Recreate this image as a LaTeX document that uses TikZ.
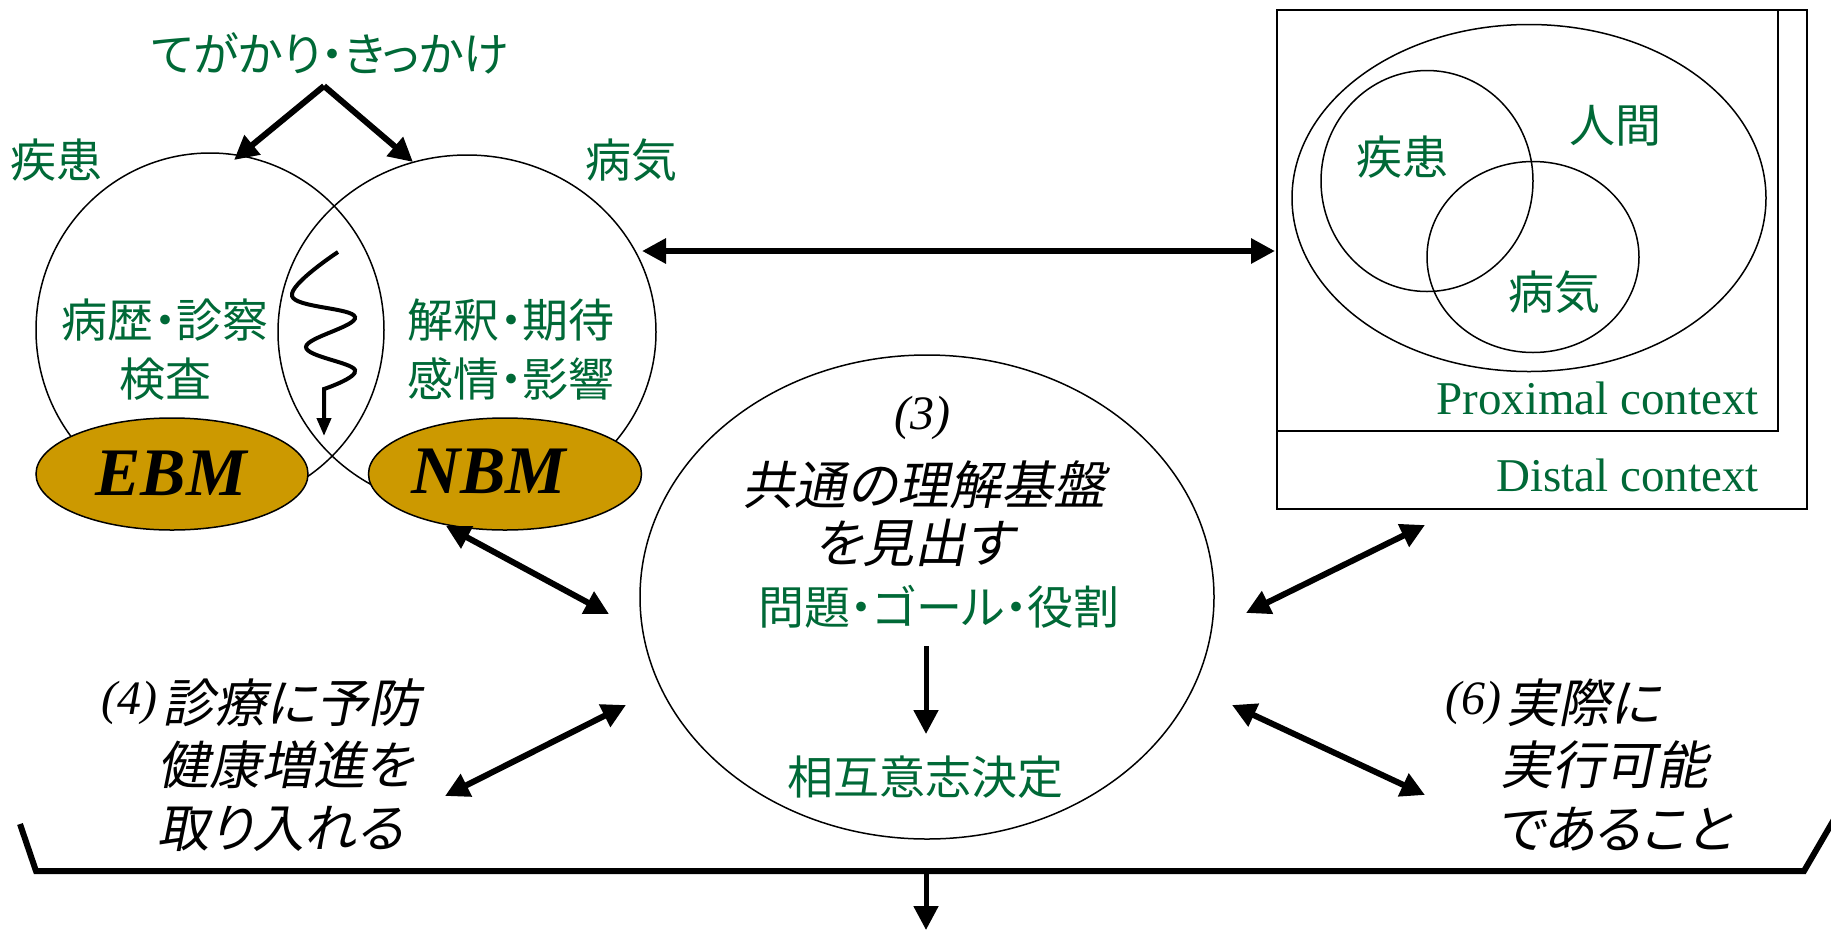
\documentclass[tikz,border=0pt]{standalone}
\usepackage{fontspec}
\setmainfont{Liberation Serif}
\newfontfamily\jp[RawFeature=+palt]{Noto Sans CJK JP}
\newfontfamily\jpi[RawFeature=+palt,FakeSlant=0.2]{Noto Sans CJK JP}
\usetikzlibrary{shapes.geometric,arrows.meta}
\definecolor{tgreen}{RGB}{0,105,55}
\definecolor{ebmgold}{RGB}{204,153,0}
\begin{document}
\begin{tikzpicture}[x=1pt,y=-1pt,
  gtext/.style={text=tgreen,font=\jp\fontsize{46}{59}\selectfont,align=center,inner sep=0pt},
  btext/.style={text=black,font=\jpi\fontsize{52}{63}\selectfont,inner sep=0pt},
  ltext/.style={text=tgreen,font=\fontsize{47}{56}\selectfont,inner sep=0pt},
  num/.style={text=black,font=\itshape\fontsize{48}{58}\selectfont,inner sep=0pt},
  circ/.style={draw,ellipse,line width=1.5pt,inner sep=0pt},
  med/.style={draw,ellipse,fill=ebmgold,line width=1.5pt,inner sep=0pt},
  medtext/.style={font=\bfseries\itshape\fontsize{68}{80}\selectfont,inner sep=0pt},
  box/.style={draw,line width=2pt,inner sep=0pt,anchor=north west},
  dbl/.style={line width=6pt,{Triangle[length=24pt,width=24pt]}-{Triangle[length=24pt,width=24pt]}},
  sgl/.style={line width=6pt,-{Triangle[length=24pt,width=24pt]}},
  sglthin/.style={line width=5pt,-{Triangle[length=24pt,width=24pt]}},
]
\useasboundingbox (0,0) rectangle (1831,930);
\fill[white] (0,0) rectangle (1831,930);

% left: Venn circles
\node[circ,minimum width=348pt,minimum height=354pt] (Lc) at (210,330) {};
\node[circ,minimum width=378pt,minimum height=354pt] (Rc) at (467,332) {};
\node[med,minimum width=272pt,minimum height=112pt] (ebm) at (172,474) {};
\node[med,minimum width=273pt,minimum height=112pt] (nbm) at (505,474) {};
\node[medtext] (ebmT) at (171,473) {EBM};
\node[medtext] (nbmT) at (489,471) {NBM};

\node[gtext] (cue) at (330,53) {てがかり・きっかけ};
\node[gtext] (shikkan) at (56,160) {疾患};
\node[gtext] (byoki) at (631,160) {病気};
\node[gtext] (ltxt) at (165,350) {病歴・診察\\検査};
\node[gtext] (rtxt) at (511,350) {解釈・期待\\感情・影響};

\coordinate (apex) at (324,86);
\coordinate (cueL) at (234,160);
\coordinate (cueR) at (413,162);
\draw[sgl] (apex) -- (cueL);
\draw[sgl] (apex) -- (cueR);

% wave
\coordinate (wtip) at (324,436);
\draw[line width=4pt,-{Triangle[length=18pt,width=14pt]}]
  plot[smooth,tension=0.65] coordinates {(338,252) (292,296) (355,317) (306,347) (355,370) (324,389)} -- (wtip);

% right: context boxes
\node[box,minimum width=530pt,minimum height=499pt] (distal) at (1276,9) {};
\node[box,minimum width=501pt,minimum height=421pt] (prox) at (1276,9) {};
\node[circ,minimum width=474pt,minimum height=347pt] (human) at (1529,198) {};
\node[circ,minimum width=212pt,minimum height=221pt] (sk) at (1427,181) {};
\node[circ,minimum width=212pt,minimum height=191pt] (bk) at (1533,257) {};
\node[gtext] (skT) at (1402,157) {疾患};
\node[gtext] (hmT) at (1615,126) {人間};
\node[gtext] (bkT) at (1554,292) {病気};
\node[ltext,anchor=base east] (proxT) at (1759,414) {Proximal context};
\node[ltext,anchor=base east] (distT) at (1759,491) {Distal context};

\coordinate (hL) at (642,251);
\coordinate (hR) at (1275,251);
\draw[dbl] (hL) -- (hR);

% centre
\node[circ,minimum width=574pt,minimum height=484pt] (ctr) at (927,597) {};
\node[num] (n3) at (922,418) {(3)};
\node[btext] (cb1) at (924,485) {共通の理解基盤};
\node[btext] (cb2) at (914,543) {を見出す};
\node[gtext] (pgr) at (939,607) {問題・ゴール・役割};
\node[gtext] (mdm) at (925,777) {相互意志決定};
\coordinate (ca1) at (926,646);
\coordinate (ca2) at (926,734);
\draw[sglthin] (ca1) -- (ca2);

% side texts
\node[num,anchor=east] (n4) at (158,703) {(4)};
\node[btext,anchor=west] (p4a) at (162,703) {診療に予防};
\node[btext,anchor=west] (p4b) at (157,765) {健康増進を};
\node[btext,anchor=west] (p4c) at (157,829) {取り入れる};
\node[num,anchor=east] (n6) at (1502,703) {(6)};
\node[btext,anchor=west] (p6a) at (1506,703) {実際に};
\node[btext,anchor=west] (p6b) at (1500,765) {実行可能};
\node[btext,anchor=west] (p6c) at (1496,829) {であること};

% double arrows
\coordinate (a1s) at (446,526); \coordinate (a1e) at (609,614);
\coordinate (a2s) at (1246,613); \coordinate (a2e) at (1425,525);
\coordinate (a3s) at (445,796); \coordinate (a3e) at (626,705);
\coordinate (a4s) at (1232,705); \coordinate (a4e) at (1425,795);
\draw[dbl] (a1s) -- (a1e);
\draw[dbl] (a2s) -- (a2e);
\draw[dbl] (a3s) -- (a3e);
\draw[dbl] (a4s) -- (a4e);

% bracket
\coordinate (bl) at (20,824);
\coordinate (blc) at (36,871);
\coordinate (brc) at (1804,871);
\coordinate (br) at (1836,816);
\coordinate (bmid) at (926,871);
\coordinate (bdown) at (926,930);
\draw[line width=6pt,line join=miter] (bl) -- (blc) -- (brc) -- (br);
\draw[sglthin] (bmid) -- (bdown);
\end{tikzpicture}
\end{document}
